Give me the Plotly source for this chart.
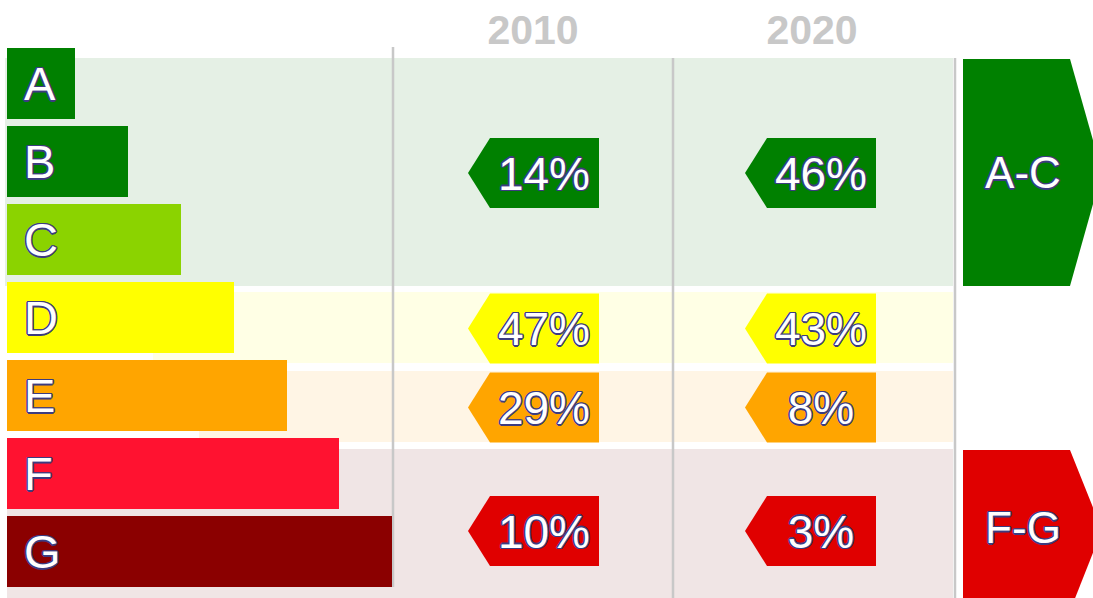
import plotly.graph_objects as go

# energy label classes (left scale)
classes = ["A", "B", "C", "D", "E", "F", "G"]
class_steps = [1, 2, 3, 4, 5, 6, 7]
class_colors = ["#008000", "#008000", "#8bd300", "#ffff00", "#ffa500", "#ff1230", "#8b0000"]

# grouped shares per year
years = ["2010", "2020"]
groups = ["A-C", "D", "E", "F-G"]
share_2010 = [14, 47, 29, 10]
share_2020 = [46, 43, 8, 3]
group_colors = ["#008000", "#ffff00", "#ffa500", "#e00000"]
band_colors = ["#e5f0e5", "#ffffe5", "#fff5e5", "#f0e5e5"]
side_labels = ["A-C", "", "", "F-G"]

W, H = 1093, 598
outline = "#3c3c80"
shadow = ", ".join(f"{dx}px {dy}px 0 {outline}"
                   for dx, dy in [(-1, -1), (1, -1), (-1, 1), (1, 1),
                                  (0, -1.5), (0, 1.5), (-1.5, 0), (1.5, 0)])
grey = "#c8c8c8"
txt_dy = 5  # nudge text down so the glyphs sit visually centred

# layout geometry (pixel-like units on the axes)
row_top0, row_pitch, row_h = 48, 78, 71
bar_x0, bar_base, bar_step = 7, 15.5, 52.8
row_centers = [row_top0 + row_pitch * i + row_h / 2 for i in range(len(classes))]

band_top = [58, 292, 371, 449]
band_bot = [286, 363, 442, 611]
band_left = [5, 153, 199, 7]
band_right = 953
col_lines = [393, 673, 955]
band_mid = [(t + b) / 2 for t, b in zip(band_top, band_bot)]
tag_mid = [m + 1 for m in band_mid]

fig = go.Figure()

shapes = []
# background bands
for t, b, l, c in zip(band_top, band_bot, band_left, band_colors):
    shapes.append(dict(type="rect", x0=l, x1=band_right, y0=t, y1=b,
                       fillcolor=c, line_width=0, layer="below"))
# column separators
shapes.append(dict(type="line", x0=col_lines[0], x1=col_lines[0], y0=47, y1=587,
                   line=dict(color=grey, width=2.5), layer="below"))
for xl in col_lines[1:]:
    shapes.append(dict(type="line", x0=xl, x1=xl, y0=58, y1=H,
                       line=dict(color=grey, width=2.5), layer="below"))

# percentage tags (pointing left)
tag_h = 70
tag_right = [col_lines[0] + 206, col_lines[1] + 203]
for yi, right in enumerate(tag_right):
    for gi, mid in enumerate(tag_mid):
        t, b = mid - tag_h / 2, mid + tag_h / 2
        p = (f"M {right - 131},{mid} L {right - 109},{t} L {right},{t} "
             f"L {right},{b} L {right - 109},{b} Z")
        shapes.append(dict(type="path", path=p, fillcolor=group_colors[gi],
                           line_width=0, layer="below"))

# side arrows (pointing right)
for gi, lab in enumerate(side_labels):
    if not lab:
        continue
    t, b, mid = band_top[gi] + 1, band_bot[gi], band_mid[gi]
    p = f"M 963,{t} L 1070,{t} L 1102,{mid} L 1070,{b} L 963,{b} Z"
    shapes.append(dict(type="path", path=p, fillcolor=group_colors[gi],
                       line_width=0, layer="below"))

# class bars
fig.add_trace(
    go.Bar(y=row_centers,
           x=[bar_base + bar_step * s for s in class_steps],
           base=bar_x0,
           orientation="h",
           width=row_h,
           marker=dict(color=class_colors, line_width=0),
           hoverinfo="skip",
           showlegend=False,
           )
)

fig.add_trace(
    go.Scatter(x=[24] * len(classes), y=[c + txt_dy for c in row_centers], mode="text",
               text=classes, textposition="middle right",
               textfont=dict(family="Liberation Sans, Arial", size=47,
                             color="white", shadow=shadow),
               hoverinfo="skip", showlegend=False)
)

for right, vals in zip(tag_right, [share_2010, share_2020]):
    fig.add_trace(
        go.Scatter(x=[right - 55] * len(groups), y=[m + txt_dy for m in tag_mid],
                   mode="text",
                   text=[f"{v}%" for v in vals], textposition="middle center",
                   textfont=dict(family="Liberation Sans, Arial", size=46,
                                 color="white", shadow=shadow),
                   hoverinfo="skip", showlegend=False)
    )

fig.add_trace(
    go.Scatter(x=[1023, 1023], y=[band_mid[0] + txt_dy, band_mid[3] + 2], mode="text",
               text=[side_labels[0], side_labels[3]], textposition="middle center",
               textfont=dict(family="Liberation Sans, Arial", size=44,
                             color="white", shadow=shadow),
               hoverinfo="skip", showlegend=False)
)

# year headers
fig.add_trace(
    go.Scatter(x=[533, 812], y=[34, 34], mode="text", text=years,
               textposition="middle center",
               textfont=dict(family="Liberation Sans, Arial", size=41,
                             color=grey, weight="bold"),
               hoverinfo="skip", showlegend=False)
)

fig.update_layout(
    width=W,
    height=H,
    margin=dict(l=0, r=0, t=0, b=0, pad=0),
    paper_bgcolor="white",
    plot_bgcolor="white",
    shapes=shapes,
    bargap=0,
    xaxis=dict(range=[0, W], visible=False, fixedrange=True),
    yaxis=dict(range=[H, 0], visible=False, fixedrange=True),
)

# drop the default page margin so the chart sits at the window origin
fig.write_html("out.html", config={"displayModeBar": False},
               post_script="document.body.style.margin='0';")
